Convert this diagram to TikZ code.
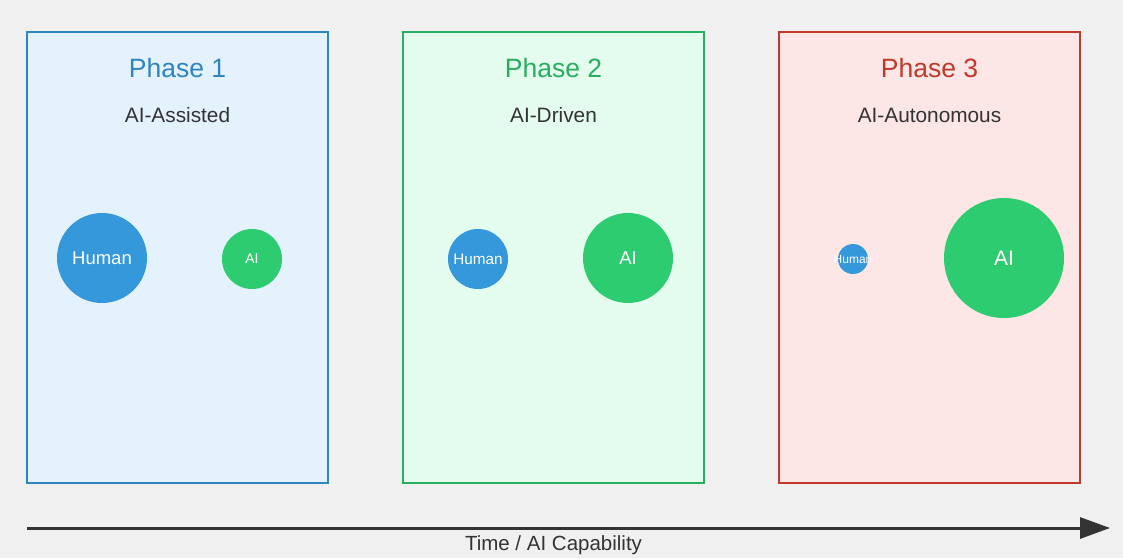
\documentclass[tikz,border=0pt]{standalone}
\usepackage{fontspec}
\setmainfont{Liberation Sans}
\usepackage{tikz}
\usetikzlibrary{arrows.meta, positioning}
\usepackage{xcolor}
\definecolor{bggray}{HTML}{F0F0F0}
\definecolor{phaseblue}{HTML}{2E86C1}
\definecolor{phasegreen}{HTML}{27AE60}
\definecolor{phasered}{HTML}{C0392B}
\definecolor{fillblue}{HTML}{E4F2FD}
\definecolor{fillgreen}{HTML}{E4FCEE}
\definecolor{fillred}{HTML}{FDE6E6}
\definecolor{humanblue}{HTML}{3498DB}
\definecolor{aigreen}{HTML}{2ECC71}
\definecolor{darktext}{HTML}{333333}
\newcommand{\fs}[1]{\fontsize{#1}{#1}\selectfont}

\begin{document}
\begin{tikzpicture}[
    x=1pt, y=-1pt,
    phase/.style={draw, line width=2.8pt, minimum width=301pt,
                  minimum height=451pt, inner sep=0pt},
    ttl/.style={font=\fs{26.5}},
    sub/.style={font=\fs{20.8}, text=darktext},
    who/.style={circle, inner sep=0pt, text=white},
    arrow/.style={-{Triangle[length=30pt, width=21pt]}, line width=3pt,
                  darktext},
  ]
    \fill[bggray] (0,0) rectangle (1123,558);
    \useasboundingbox (0,0) rectangle (1123,558);

    % Phase 1: AI-Assisted
    \node[phase, draw=phaseblue, fill=fillblue] (p1) at (177.5,257.5) {};
    \node[ttl, text=phaseblue] (p1t) at (177.5,68) {Phase 1};
    \node[sub] (p1s) at (177.5,115) {AI-Assisted};
    \node[who, fill=humanblue, minimum size=90pt, font=\fs{18.5}]
      (p1h) at (102,258) {Human};
    \node[who, fill=aigreen, minimum size=60pt, font=\fs{14}]
      (p1a) at (252,259) {AI};

    % Phase 2: AI-Driven
    \node[phase, draw=phasegreen, fill=fillgreen] (p2) at (553.5,257.5) {};
    \node[ttl, text=phasegreen] (p2t) at (553.5,68) {Phase 2};
    \node[sub] (p2s) at (553.5,115) {AI-Driven};
    \node[who, fill=humanblue, minimum size=60pt, font=\fs{15.3}]
      (p2h) at (478,259) {Human};
    \node[who, fill=aigreen, minimum size=90pt, font=\fs{18.5}]
      (p2a) at (628,258) {AI};

    % Phase 3: AI-Autonomous
    \node[phase, draw=phasered, fill=fillred] (p3) at (929.5,257.5) {};
    \node[ttl, text=phasered] (p3t) at (929.5,68) {Phase 3};
    \node[sub] (p3s) at (929.5,115) {AI-Autonomous};
    \node[who, fill=humanblue, minimum size=30pt, font=\fs{12}]
      (p3h) at (853,259) {\makebox[0pt]{Human}};
    \node[who, fill=aigreen, minimum size=120pt, font=\fs{21}]
      (p3a) at (1004,258) {AI};

    % Time axis
    \coordinate (tstart) at (27,528);
    \coordinate (tend) at (1110,528);
    \draw[arrow] (tstart) -- (tend);
    \node[font=\fs{20.5}, text=darktext] (tlbl) at (553.5,545)
      {Time / AI Capability};
\end{tikzpicture}
\end{document}
